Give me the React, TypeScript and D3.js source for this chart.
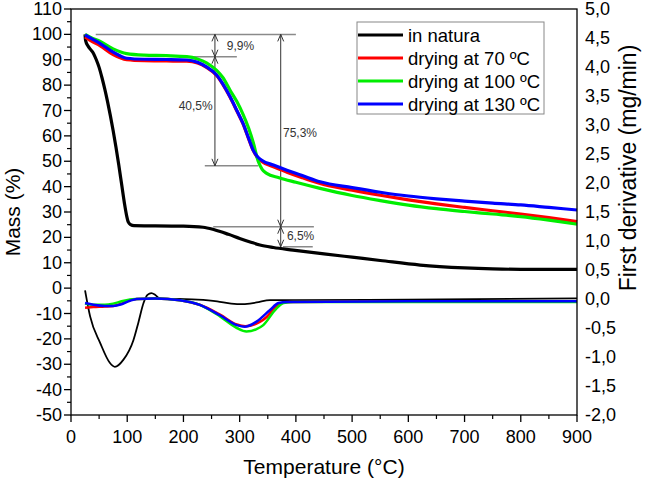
import React from "react";
import * as d3 from "d3";

type P = [number, number];

// ---- data (temperature °C, mass %) ----
const tgNatura: P[] = [[25,100],[26,97.5],[30,95.5],[35,94],[40,92.5],[45,90],[50,87],[55,83],[60,78.5],[65,73.5],[70,68],[75,62],[80,55.5],[85,48.5],[90,41],[95,33.5],[99,28.5],[102,26],[106,25],[112,24.6],[150,24.5],[200,24.4],[235,24],[255,23],[280,21.2],[300,19.6],[320,18.1],[336,17],[360,16],[395,15],[450,13.5],[500,12.2],[550,10.9],[621,9.1],[700,8],[750,7.6],[800,7.4],[900,7.4]];
const tg70: P[] = [[25,99],[35,97.5],[52,95.5],[75,92],[99,90],[130,89.6],[170,89.5],[206,89.4],[225,88.7],[241,87],[259,83.8],[270,80.3],[283,75.2],[295,69.8],[306,64.7],[316,58.8],[324,54.3],[331,51.7],[340,49.8],[360,47.8],[384,45.7],[410,43.6],[443,41.2],[500,38.6],[550,36.6],[600,34.8],[650,33.2],[700,31.8],[750,30.5],[800,29.2],[850,27.8],[900,26.2]];
const tg100: P[] = [[25,100],[35,98.8],[52,97.2],[75,94.3],[99,92.4],[130,91.8],[170,91.6],[206,91.2],[225,90.3],[241,88.8],[259,85.8],[270,83],[283,78],[295,73.5],[306,68.5],[316,63],[324,57.5],[333,50],[340,46.8],[348,45.2],[370,43.5],[400,41.7],[443,39.3],[500,36.5],[550,34.5],[600,32.7],[650,31.3],[700,30.2],[750,29.2],[800,28.2],[850,26.8],[900,25.2]];
const tg130: P[] = [[25,99.8],[35,98.5],[52,96.4],[75,93],[99,90.6],[130,90.2],[170,90.1],[206,89.9],[225,89],[241,87.2],[259,84],[270,80.5],[283,75.4],[295,70],[306,64.9],[316,59],[324,54.4],[331,52],[340,50.3],[360,48.5],[384,46.5],[410,44.5],[443,41.9],[500,39.6],[550,37.8],[600,36.3],[650,35.2],[700,34.3],[750,33.5],[800,32.8],[850,31.8],[900,30.8]];

// ---- data (temperature °C, first derivative mg/min) ----
const dtgNatura: P[] = [[25,0.15],[34,-0.3],[52,-0.76],[69,-1.1],[78,-1.17],[93,-1.05],[111,-0.71],[120,-0.4],[129,-0.07],[136,0.07],[143,0.1],[150,0.07],[158,0.01],[190,0],[225,-0.01],[260,-0.04],[285,-0.08],[306,-0.09],[330,-0.06],[354,-0.02],[400,-0.02],[600,-0.01],[900,0.01]];
const dtg70: P[] = [[25,-0.15],[40,-0.14],[60,-0.13],[75,-0.12],[90,-0.08],[105,-0.02],[117,0],[150,0.01],[194,-0.02],[229,-0.1],[265,-0.27],[295,-0.44],[310,-0.47],[335,-0.4],[348,-0.31],[362,-0.15],[375,-0.07],[390,-0.05],[600,-0.04],[900,-0.04]];
const dtg100: P[] = [[25,-0.08],[40,-0.1],[60,-0.1],[75,-0.08],[90,-0.04],[105,-0.01],[117,0],[150,0.01],[194,-0.02],[229,-0.1],[265,-0.3],[295,-0.5],[312,-0.56],[330,-0.52],[342,-0.45],[363,-0.19],[378,-0.07],[395,-0.05],[600,-0.05],[900,-0.05]];
const dtg130: P[] = [[25,-0.07],[40,-0.1],[60,-0.12],[75,-0.12],[90,-0.09],[105,-0.03],[117,0],[150,0.01],[194,-0.02],[229,-0.1],[265,-0.28],[295,-0.45],[309,-0.48],[330,-0.39],[354,-0.19],[369,-0.07],[385,-0.05],[600,-0.04],[900,-0.04]];

const seriesNames = ["in natura", "drying at 70 ºC", "drying at 100 ºC", "drying at 130 ºC"];
const seriesColors = ["#000000", "#ff0000", "#00ee00", "#0000ff"];

const xTicks = [0, 100, 200, 300, 400, 500, 600, 700, 800, 900];
const massTicks = [-50, -40, -30, -20, -10, 0, 10, 20, 30, 40, 50, 60, 70, 80, 90, 100, 110];
const derivTicks = [-2, -1.5, -1, -0.5, 0, 0.5, 1, 1.5, 2, 2.5, 3, 3.5, 4, 4.5, 5];

// annotation guides (temperature range, mass level)
const guideLines = [
  { t0: 44, t1: 400, m: 100 },
  { t0: 206, t1: 295, m: 91.2 },
  { t0: 238, t1: 333, m: 48.2 },
  { t0: 253, t1: 432, m: 24.2 },
  { t0: 377, t1: 430, m: 16.3 },
];
const arrows = [
  { t: 256, m0: 100, m1: 91.2 },
  { t: 256, m0: 91.2, m1: 48.2 },
  { t: 373, m0: 100, m1: 24.2 },
  { t: 373, m0: 24.2, m1: 16.3 },
];
const notes = [
  { text: "9,9%", t: 277, m: 95.4, anchor: "start" },
  { text: "40,5%", t: 252, m: 71.8, anchor: "end" },
  { text: "75,3%", t: 377, m: 61.1, anchor: "start" },
  { text: "6,5%", t: 384, m: 20.5, anchor: "start" },
];

const W = 645, H = 481;
const L = 71, R = 577, T = 9, B = 415;
const FONT = "'Liberation Sans', Arial, sans-serif";

export default function App() {
  const x = d3.scaleLinear().domain([0, 900]).range([L, R]);
  const yM = d3.scaleLinear().domain([-50, 110]).range([B, T]);
  const yD = d3.scaleLinear().domain([-2, 5]).range([B, T]);

  const lineM = d3.line<P>().x(d => x(d[0])).y(d => yM(d[1])).curve(d3.curveMonotoneX);
  const lineD = d3.line<P>().x(d => x(d[0])).y(d => yD(d[1])).curve(d3.curveMonotoneX);

  const tgs = [tgNatura, tg70, tg100, tg130];
  const dtgs = [dtgNatura, dtg70, dtg100, dtg130];

  const minorX = d3.range(50, 900, 100);
  const minorM = d3.range(-45, 110, 10);

  const fmt = (v: number) => v.toFixed(1).replace(".", ",");

  const arrowHead = (px: number, py: number, dir: number, key: string) => (
    <path key={key} d={`M${px - 3},${py - dir * 7}L${px},${py}L${px + 3},${py - dir * 7}`} fill="none" stroke="#333" strokeWidth={1} />
  );

  return (
    <svg width={W} height={H} style={{ position: "absolute", left: 0, top: 0, background: "#fff" }} fontFamily={FONT}>
      <rect x={0} y={0} width={W} height={H} fill="#fff" />

      {/* annotations */}
      {guideLines.map((g, i) => (
        <line key={"g" + i} x1={x(g.t0)} x2={x(g.t1)} y1={yM(g.m)} y2={yM(g.m)} stroke="#8a8a8a" strokeWidth={1.5} />
      ))}
      {arrows.map((a, i) => {
        const px = x(a.t), y0 = yM(a.m0), y1 = yM(a.m1);
        return (
          <g key={"a" + i}>
            <line x1={px} x2={px} y1={y0} y2={y1} stroke="#333" strokeWidth={1} />
            {arrowHead(px, y0, -1, "h0")}
            {arrowHead(px, y1, 1, "h1")}
          </g>
        );
      })}
      {notes.map((n, i) => (
        <text key={"n" + i} x={x(n.t)} y={yM(n.m)} fontSize={12} fill="#333" textAnchor={n.anchor as any} dominantBaseline="central">{n.text}</text>
      ))}

      {/* curves */}
      {dtgs.map((d, i) => (
        <path key={"d" + i} d={lineD(d) || ""} fill="none" stroke={seriesColors[i]} strokeWidth={i === 0 ? 1.8 : 2.5} />
      ))}
      {tgs.map((d, i) => (
        <path key={"t" + i} d={lineM(d) || ""} fill="none" stroke={seriesColors[i]} strokeWidth={3.2} />
      ))}

      {/* frame */}
      <rect x={L} y={T} width={R - L} height={B - T} fill="none" stroke="#000" strokeWidth={1.3} />

      {/* bottom axis */}
      {xTicks.map(t => (
        <g key={"xt" + t}>
          <line x1={x(t)} x2={x(t)} y1={B} y2={B + 7} stroke="#000" strokeWidth={1.3} />
          <text x={x(t)} y={B + 22} fontSize={18} textAnchor="middle" dominantBaseline="central">{t}</text>
        </g>
      ))}
      {minorX.map(t => (
        <line key={"xm" + t} x1={x(t)} x2={x(t)} y1={B} y2={B + 4} stroke="#000" strokeWidth={1.2} />
      ))}

      {/* left axis */}
      {massTicks.map(t => (
        <g key={"mt" + t}>
          <line x1={L - 7} x2={L} y1={yM(t)} y2={yM(t)} stroke="#000" strokeWidth={1.3} />
          <text x={L - 9} y={yM(t)} fontSize={18} textAnchor="end" dominantBaseline="central">{t}</text>
        </g>
      ))}
      {minorM.map(t => (
        <line key={"mm" + t} x1={L - 4} x2={L} y1={yM(t)} y2={yM(t)} stroke="#000" strokeWidth={1.2} />
      ))}

      {/* right axis */}
      {derivTicks.map(t => (
        <text key={"dt" + t} x={R + 8} y={yD(t)} fontSize={18} textAnchor="start" dominantBaseline="central">{fmt(t)}</text>
      ))}

      {/* axis titles */}
      <text x={324} y={466} fontSize={21} textAnchor="middle" dominantBaseline="central">Temperature (°C)</text>
      <text transform={`translate(12,212) rotate(-90)`} fontSize={21} textAnchor="middle" dominantBaseline="central">Mass (%)</text>
      <text transform={`translate(628,168) rotate(-90)`} fontSize={23} textAnchor="middle" dominantBaseline="central">First derivative (mg/min)</text>

      {/* legend */}
      <rect x={357} y={22} width={187} height={92} fill="#fff" stroke="#888" strokeWidth={1} />
      {seriesNames.map((s, i) => (
        <g key={"l" + i}>
          <line x1={358} x2={403} y1={35 + i * 23} y2={35 + i * 23} stroke={seriesColors[i]} strokeWidth={3} />
          <text x={408} y={35 + i * 23} fontSize={18.5} dominantBaseline="central">{s}</text>
        </g>
      ))}
    </svg>
  );
}
